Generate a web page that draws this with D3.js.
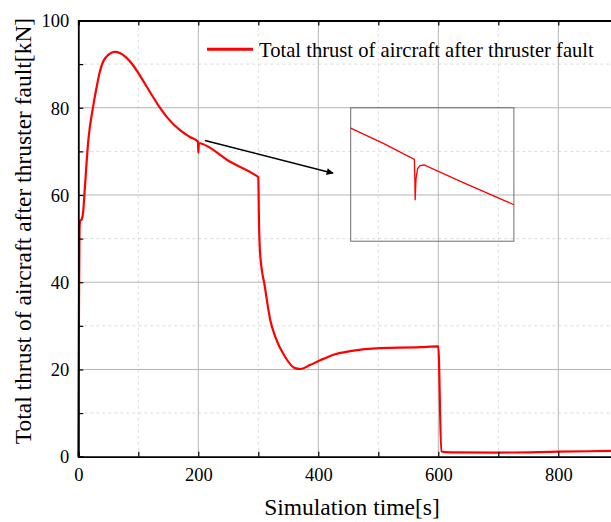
<!DOCTYPE html>
<html>
<head>
<meta charset="utf-8">
<style>
  body { margin: 0; background: #fff; }
  svg { display: block; font-family: "Liberation Serif", "Times New Roman", serif; }
  .grid-major { stroke: #b4b4b4; stroke-width: 1; }
  .grid-minor { stroke: #dcdcdc; stroke-width: 1; stroke-dasharray: 3,3; }
  .tick-label { font-size: 18.5px; fill: #000; }
  .axis-title { font-size: 23.5px; fill: #000; }
</style>
</head>
<body>
<div id="chart"></div>
<script src="https://cdn.jsdelivr.net/npm/d3@7"></script>
<script>
// main series: total thrust [kN] vs simulation time [s]
var times  = [0, 1, 2, 3, 6, 8, 11, 16.7, 25, 30.7, 36, 45, 61, 70, 80, 91, 103, 120, 136, 148, 170, 186, 199.5, 200, 201, 203, 253, 298, 300, 301, 303, 311, 320, 328, 345, 361, 370, 386, 403, 428, 453, 503, 570, 599, 600, 605, 620, 700, 800, 900];
var thrust = [0, 30, 52, 54, 54.5, 56, 61.8, 72.5, 80.5, 84.8, 88.3, 91.4, 92.8, 92.5, 91.5, 89.8, 87.3, 83.5, 80.0, 77.8, 74.8, 73.3, 72.2, 69.7, 71.9, 71.85, 67.6, 64.3, 64.1, 55.0, 46.6, 38.9, 31.3, 27.6, 22.8, 20.3, 20.1, 21.0, 22.1, 23.5, 24.2, 24.9, 25.1, 25.3, 25.3, 1.2, 1.0, 0.95, 1.15, 1.35];

// zoomed detail around the 200 s fault
var insetTimes  = [195.0, 197.0, 198.9, 198.93, 198.95, 199.0, 199.1, 199.25, 199.5, 202.0, 205.0];
var insetThrust = [72.31, 71.8, 71.26, 70.6, 69.88, 70.6, 70.95, 71.05, 71.07, 70.45, 69.73];

var xTicks = [0, 200, 400, 600, 800];
var yTicks = [0, 20, 40, 60, 80, 100];
var xMinor = [100, 300, 500, 700];
var yMinor = [10, 30, 50, 70, 90];

var legendText = "Total thrust of aircraft after thruster fault";
var yTitle = "Total thrust of aircraft after thruster fault[kN]";
var xTitle = "Simulation time[s]";

var width = 611, height = 522;
var margin = { top: 20.5, left: 78.3, bottom: 65.3 };
var plotH = height - margin.top - margin.bottom;

var svg = d3.select("#chart").append("svg")
    .attr("width", width)
    .attr("height", height);

var x = d3.scaleLinear().domain([0, 900]).range([margin.left, margin.left + 540]);
var y = d3.scaleLinear().domain([0, 100]).range([margin.top + plotH, margin.top]);

////////// grid //////////
var grid = svg.append("g");
grid.selectAll(".gx").data(xMinor).enter().append("line")
    .attr("class", "grid-minor")
    .attr("x1", x).attr("x2", x).attr("y1", y(0)).attr("y2", y(100));
grid.selectAll(".gy").data(yMinor).enter().append("line")
    .attr("class", "grid-minor")
    .attr("y1", y).attr("y2", y).attr("x1", x(0)).attr("x2", x(900));
grid.selectAll(".gX").data(xTicks.slice(1)).enter().append("line")
    .attr("class", "grid-major")
    .attr("x1", x).attr("x2", x).attr("y1", y(0)).attr("y2", y(100));
grid.selectAll(".gY").data(yTicks.slice(1, -1)).enter().append("line")
    .attr("class", "grid-major")
    .attr("y1", y).attr("y2", y).attr("x1", x(0)).attr("x2", x(900));

////////// main line //////////
var pts = times.map(function (t, i) { return [t, thrust[i]]; });
var line = d3.line()
    .x(function (d) { return x(d[0]); })
    .y(function (d) { return y(d[1]); })
    .curve(d3.curveMonotoneX);

svg.append("path")
    .datum(pts)
    .attr("fill", "none")
    .attr("stroke", "#ff0000")
    .attr("stroke-width", 2.2)
    .attr("stroke-linejoin", "round")
    .attr("d", line);

////////// axes //////////
var allX = xTicks.concat(xMinor).sort(d3.ascending);
var allY = yTicks.concat(yMinor).sort(d3.ascending);

var axBottom = svg.append("g")
    .attr("transform", "translate(0," + y(0) + ")")
    .call(d3.axisBottom(x).tickValues(allX).tickSize(-5).tickFormat(function (d) {
        return xTicks.indexOf(d) >= 0 ? d : "";
    }));
var axTop = svg.append("g")
    .attr("transform", "translate(0," + y(100) + ")")
    .call(d3.axisTop(x).tickValues(allX).tickSize(-5).tickFormat(""));
var axLeft = svg.append("g")
    .attr("transform", "translate(" + x(0) + ",0)")
    .call(d3.axisLeft(y).tickValues(allY).tickSize(-5).tickFormat(function (d) {
        return yTicks.indexOf(d) >= 0 ? d : "";
    }));

[axBottom, axTop, axLeft].forEach(function (g) {
    g.attr("font-family", null).attr("font-size", null);
    g.select(".domain").attr("stroke", "#000").attr("stroke-width", 1.8);
    g.selectAll(".tick line").attr("stroke", "#000").attr("stroke-width", 1.2);
    g.selectAll(".tick text").attr("class", "tick-label");
});
axBottom.selectAll(".tick text").attr("dy", "0").attr("y", 24);
axLeft.selectAll(".tick text").attr("x", -9).attr("dy", "0.34em");

////////// titles //////////
svg.append("text")
    .attr("class", "axis-title")
    .attr("x", 352)
    .attr("y", 515)
    .attr("text-anchor", "middle")
    .text(xTitle);

svg.append("text")
    .attr("class", "axis-title")
    .attr("transform", "translate(31," + 231 + ") rotate(-90)")
    .attr("text-anchor", "middle")
    .text(yTitle);

////////// legend //////////
svg.append("line")
    .attr("x1", 207).attr("x2", 253)
    .attr("y1", 49.3).attr("y2", 49.3)
    .attr("stroke", "#ff0000").attr("stroke-width", 3);
svg.append("text")
    .attr("x", 259).attr("y", 56.5)
    .attr("font-size", "20.6px")
    .text(legendText);

////////// arrow //////////
svg.append("defs").append("marker")
    .attr("id", "arrowhead")
    .attr("viewBox", "0 0 10 10")
    .attr("refX", 9).attr("refY", 5)
    .attr("markerWidth", 10).attr("markerHeight", 7)
    .attr("markerUnits", "userSpaceOnUse")
    .attr("orient", "auto")
    .append("path")
    .attr("d", "M0,0 L10,5 L0,10 Z")
    .attr("fill", "#000");

svg.append("line")
    .attr("x1", x(211.2)).attr("y1", y(72.5))
    .attr("x2", x(424.5)).attr("y2", y(65.0))
    .attr("stroke", "#000").attr("stroke-width", 1.5)
    .attr("marker-end", "url(#arrowhead)");

////////// inset //////////
var ix = d3.scaleLinear().domain([195, 205]).range([x(454), x(726)]);
var iy = d3.scaleLinear().domain([68.5, 73]).range([y(49.4), y(80)]);

svg.append("rect")
    .attr("x", x(454)).attr("y", y(80))
    .attr("width", x(726) - x(454)).attr("height", y(49.4) - y(80))
    .attr("fill", "none")
    .attr("stroke", "#6e6e6e")
    .attr("stroke-width", 1);

var insetPts = insetTimes.map(function (t, i) { return [t, insetThrust[i]]; });
svg.append("path")
    .datum(insetPts)
    .attr("fill", "none")
    .attr("stroke", "#ff0000")
    .attr("stroke-width", 1.3)
    .attr("d", d3.line()
        .x(function (d) { return ix(d[0]); })
        .y(function (d) { return iy(d[1]); }));
</script>
</body>
</html>
